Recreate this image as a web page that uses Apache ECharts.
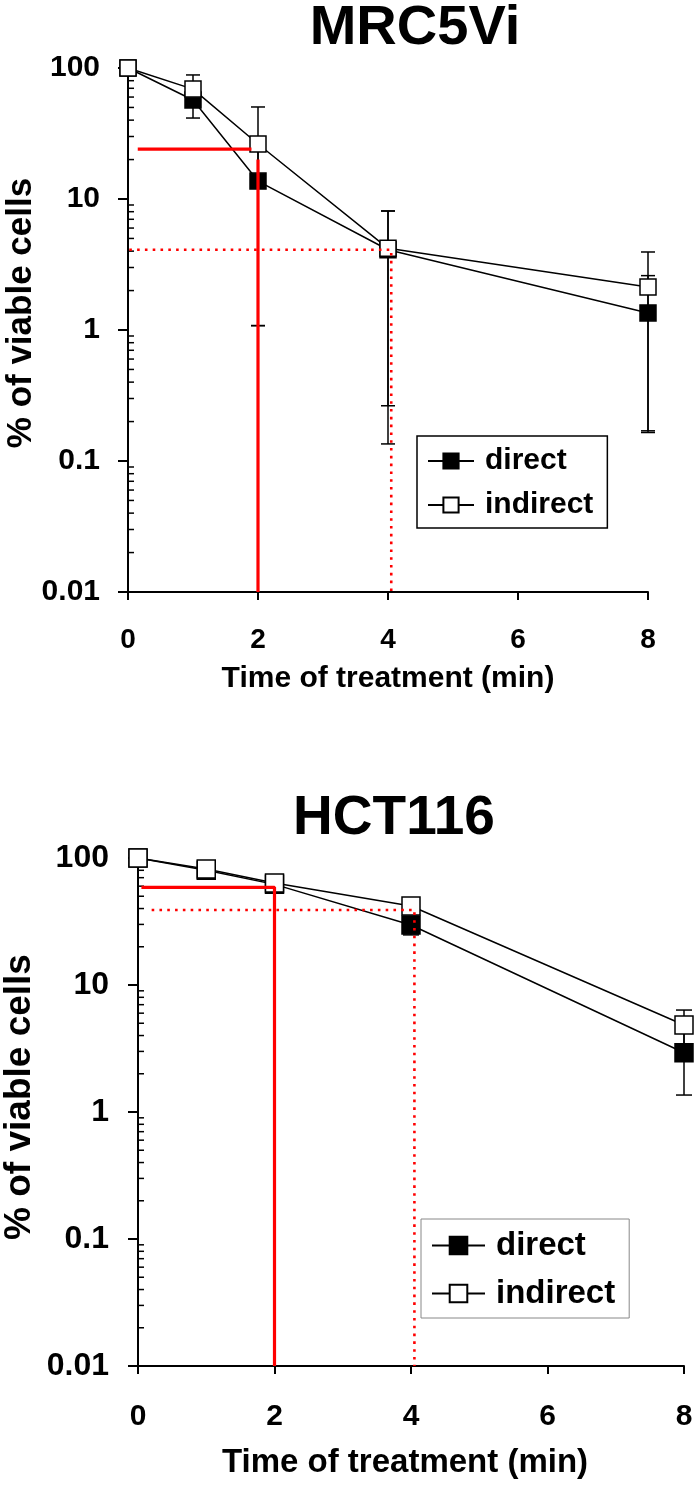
<!DOCTYPE html>
<html><head><meta charset="utf-8">
<script src="https://cdn.jsdelivr.net/npm/echarts@6/dist/echarts.min.js"></script>
<style>html,body{margin:0;padding:0;background:#fff}#c{width:700px;height:1487px}</style>
</head><body><div id="c"></div>
<script>
// ---------- data ----------
const times = [0, 1, 2, 4, 8];
const xTicks = [0, 2, 4, 6, 8];
const yTicks = [0.01, 0.1, 1, 10, 100];
const minorTicks = [0.02,0.03,0.04,0.05,0.06,0.07,0.08,0.09, 0.2,0.3,0.4,0.5,0.6,0.7,0.8,0.9,
                    2,3,4,5,6,7,8,9, 20,30,40,50,60,70,80,90];

// MRC5Vi
const mrcDirect = [100, 57, 13.7, 4.1, 1.35];
const mrcIndirect = [100, 69, 26.3, 4.2, 2.13];
const mrcDirectLow = [null, 41.5, 1.08, 0.135, 0.165];
const mrcDirectHigh = [null, 73, 26, 8.1, 2.6];
const mrcIndirectLow = [null, 55, 1.08, 0.264, 0.17];
const mrcIndirectHigh = [null, 88.5, 50.4, 8.1, 3.94];
const mrcSolidH = [[0.15, 24], [1.9, 24]];
const mrcSolidV = [[2, 20], [2, 0.01]];
const mrcDotted = [[0.02, 4.1], [4.05, 4.1], [4.05, 0.01]];

// HCT116
const hctDirect = [100, 80, 62, 29.7, 2.93];
const hctIndirect = [100, 82, 63.6, 41.9, 4.84];
const hctDirectLow = [null, null, null, 24.8, 1.36];
const hctDirectHigh = [null, null, null, 33, 4.5];
const hctIndirectLow = [null, null, null, 38, 3.3];
const hctIndirectHigh = [null, null, null, 46, 6.35];
const hctSolid = [[0.05, 58.8], [2, 58.8], [2, 0.01]];
const hctDotted = [[0.2, 39], [4.05, 39], [4.05, 0.01]];

const titles = ['MRC5Vi', 'HCT116'];
const xName = 'Time of treatment (min)';
const yName = '% of viable cells';
const legendNames = ['direct', 'indirect'];

// ---------- build ----------
const FONT = 'Liberation Sans, Arial, sans-serif';
const chart = echarts.init(document.getElementById('c'), null, {renderer: 'canvas'});

function pts(vals) { return times.map((t, i) => [t, vals[i]]); }
function errData(lo, hi) {
  const out = [];
  times.forEach((t, i) => { if (lo[i] != null && hi[i] != null) out.push([t, lo[i], hi[i]]); });
  return out;
}
function errSeries(idx, data, capW) {
  return {
    type: 'custom', xAxisIndex: idx, yAxisIndex: idx, z: 1, silent: true,
    encode: {x: 0, y: [1, 2]}, data: data, clip: false,
    renderItem: function (params, api) {
      const x = api.value(0);
      const lo = api.coord([x, api.value(1)]);
      const hi = api.coord([x, api.value(2)]);
      const st = {stroke: '#000', lineWidth: 1.5};
      return {type: 'group', children: [
        {type: 'line', shape: {x1: lo[0], y1: lo[1], x2: hi[0], y2: hi[1]}, style: st},
        {type: 'line', shape: {x1: lo[0] - capW, y1: lo[1], x2: lo[0] + capW, y2: lo[1]}, style: st},
        {type: 'line', shape: {x1: hi[0] - capW, y1: hi[1], x2: hi[0] + capW, y2: hi[1]}, style: st}
      ]};
    }
  };
}
function minorSeries(idx) {
  return {
    type: 'custom', xAxisIndex: idx, yAxisIndex: idx, z: 1, silent: true, clip: false,
    encode: {x: 0, y: 1}, data: minorTicks.map(v => [0, v]),
    renderItem: function (params, api) {
      const p = api.coord([0, api.value(1)]);
      return {type: 'line', shape: {x1: p[0], y1: p[1], x2: p[0] + 6, y2: p[1]},
              style: {stroke: '#000', lineWidth: 1.5}};
    }
  };
}
function dataSeries(idx, name, vals, filled, size) {
  return {
    type: 'line', name: name, xAxisIndex: idx, yAxisIndex: idx, data: pts(vals),
    symbol: 'rect', symbolSize: size, z: filled ? 3 : 4, silent: true,
    itemStyle: {color: filled ? '#000' : '#fff', borderColor: '#000', borderWidth: 1.5, opacity: 1},
    lineStyle: {color: '#000', width: 1.5},
    emphasis: {disabled: true}
  };
}
function guide(idx, data, dotted) {
  return {
    type: 'line', xAxisIndex: idx, yAxisIndex: idx, data: data, symbol: 'none', z: 10, silent: true,
    lineStyle: dotted ? {color: '#ff0000', width: 2.6, type: [2.6, 5.2]} : {color: '#ff0000', width: 3.2},
    emphasis: {disabled: true}
  };
}
function xAxis(idx, fs, margin) {
  return {
    type: 'value', gridIndex: idx, min: xTicks[0], max: xTicks[xTicks.length - 1], interval: 2,
    axisLine: {onZero: false, lineStyle: {color: '#000', width: 2}},
    axisTick: {show: true, length: 8, lineStyle: {color: '#000', width: 2}},
    axisLabel: {color: '#000', fontFamily: FONT, fontWeight: 'bold', fontSize: fs, margin: margin},
    splitLine: {show: false}
  };
}
function yAxis(idx, fs, margin) {
  return {
    type: 'log', logBase: 10, gridIndex: idx, min: yTicks[0], max: yTicks[yTicks.length - 1],
    axisLine: {show: true, lineStyle: {color: '#000', width: 2}},
    axisTick: {show: true, length: 10, lineStyle: {color: '#000', width: 2}},
    axisLabel: {color: '#000', fontFamily: FONT, fontWeight: 'bold', fontSize: fs, margin: margin,
                formatter: v => String(parseFloat(Number(v).toPrecision(2)))},
    splitLine: {show: false}, minorTick: {show: false}
  };
}
function legend(left, top, border, bw, iw, ih, gap, fs, pad) {
  return {
    data: legendNames, orient: 'vertical', left: left, top: top, selectedMode: false,
    borderColor: border, borderWidth: bw, padding: pad, itemWidth: iw, itemHeight: ih, itemGap: gap,
    textStyle: {color: '#000', fontFamily: FONT, fontWeight: 'bold', fontSize: fs, padding: [0, 0, 0, 6]}
  };
}
function txt(text, x, y, fs, rot) {
  return {type: 'text', x: x, y: y, rotation: rot || 0, silent: true,
    style: {text: text, fill: '#000', font: 'bold ' + fs + 'px ' + FONT, textAlign: 'center', textVerticalAlign: 'middle'}};
}

chart.setOption({
  animation: false,
  backgroundColor: '#fff',
  grid: [
    {left: 128, top: 68, width: 520, height: 524},
    {left: 138, top: 858, width: 546, height: 508}
  ],
  xAxis: [xAxis(0, 28, 34), xAxis(1, 30, 36)],
  yAxis: [yAxis(0, 30, 28), yAxis(1, 32, 29)],
  legend: [
    legend(417, 436, '#000', 1.5, 46, 19, 14, 30, [10, 14, 8, 10]),
    legend(421, 1219, '#888', 1, 53, 22, 15, 33, [10, 14, 8, 10])
  ],
  graphic: [
    txt(titles[0], 415, 29, 56),
    txt(titles[1], 394, 819, 55),
    txt(xName, 388, 679, 30),
    txt(xName, 405, 1463, 33),
    txt(yName, 21, 313, 35, Math.PI / 2),
    txt(yName, 20, 1097, 37, Math.PI / 2)
  ],
  series: [
    minorSeries(0), minorSeries(1),
    errSeries(0, errData(mrcDirectLow, mrcDirectHigh), 7),
    errSeries(0, errData(mrcIndirectLow, mrcIndirectHigh), 7),
    errSeries(1, errData(hctDirectLow, hctDirectHigh), 8),
    errSeries(1, errData(hctIndirectLow, hctIndirectHigh), 8),
    dataSeries(0, legendNames[0], mrcDirect, true, 16),
    dataSeries(0, legendNames[1], mrcIndirect, false, 16),
    dataSeries(1, legendNames[0], hctDirect, true, 18),
    dataSeries(1, legendNames[1], hctIndirect, false, 18),
    guide(0, mrcSolidH, false), guide(0, mrcSolidV, false), guide(0, mrcDotted, true),
    guide(1, hctSolid, false), guide(1, hctDotted, true)
  ]
});
</script></body></html>
